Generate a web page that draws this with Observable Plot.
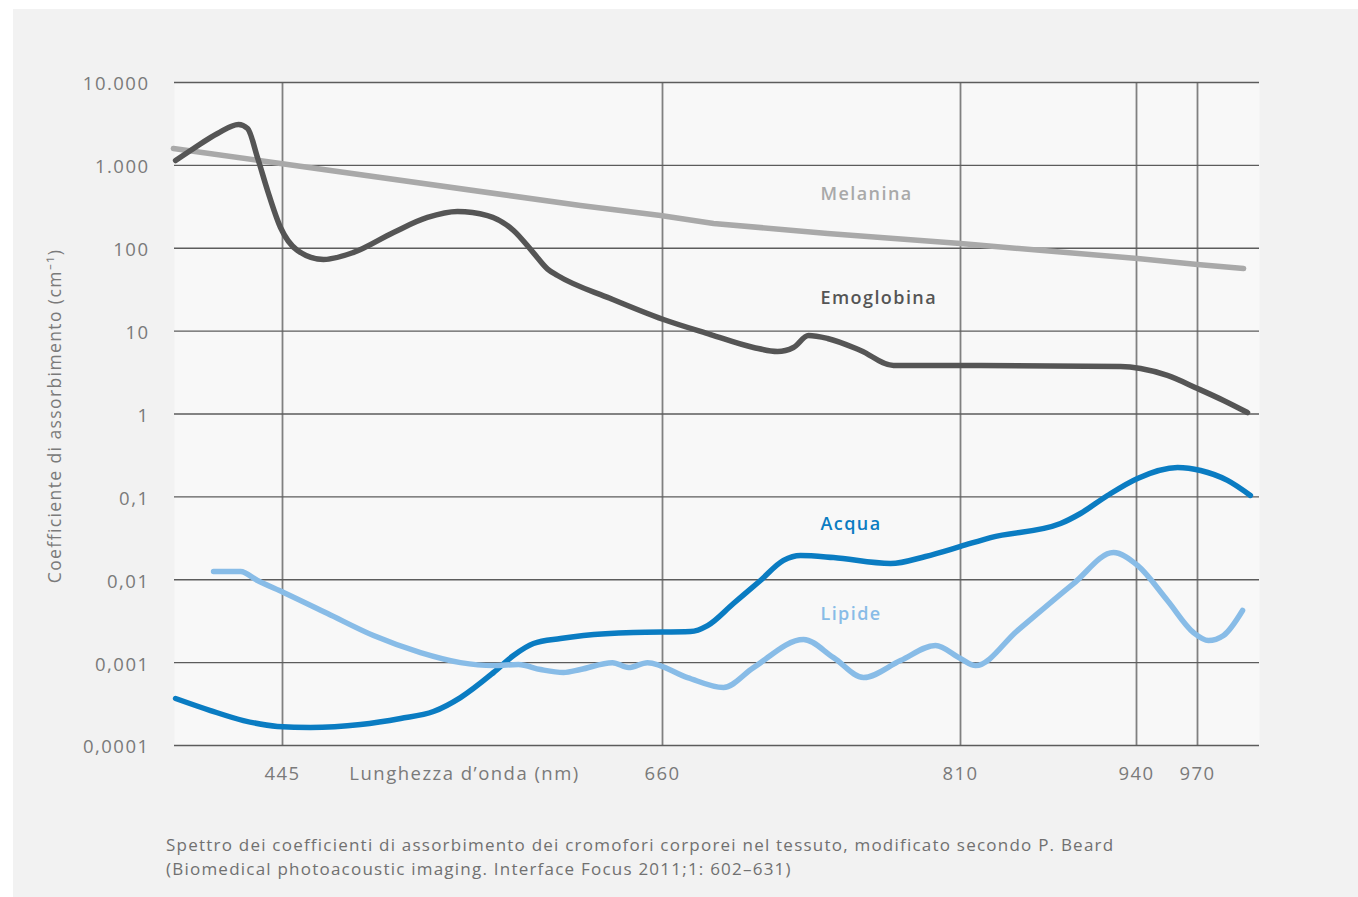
<!DOCTYPE html>
<html><head><meta charset="utf-8">
<script src="https://cdn.jsdelivr.net/npm/d3@7"></script>
<script src="https://cdn.jsdelivr.net/npm/@observablehq/plot@0.6"></script>
<style>
html,body{margin:0;padding:0;background:#fff;}
#page{position:relative;width:1358px;height:897px;overflow:hidden;}
#bg{position:absolute;left:13px;top:9px;width:1345px;height:888px;background:#f2f2f2;}
#chart{position:absolute;left:0;top:0;}
#chart text{letter-spacing:0.08em;}
#caption{position:absolute;left:166px;top:833px;font-family:"Open Sans",sans-serif;font-size:17px;line-height:24px;color:#707070;white-space:nowrap;letter-spacing:0.072em;}
</style></head><body>
<div id="page"><div id="bg"></div><div id="chart"></div>
<div id="caption">Spettro dei coefficienti di assorbimento dei cromofori corporei nel tessuto, modificato secondo P. Beard<br>(Biomedical photoacoustic imaging. Interface Focus 2011;1: 602–631)</div></div>
<script>
// Axis ticks
const xTicks = [445, 660, 810, 940, 970];
const xBreaks = [385, 445, 660, 810, 940, 970, 1000];
const yTicks = [1e-4, 1e-3, 1e-2, 1e-1, 1, 10, 100, 1000, 10000];
const yTickLabels = ["0,0001", "0,001", "0,01", "0,1", "1", "10", "100", "1.000", "10.000"];

// Melanina
const melNm  = [384.4, 443.9, 613.6, 658.9, 685.7, 743.1, 810, 940.5, 970, 992.3];
const melVal = [1600, 1052, 328, 248, 199, 151, 114, 75.2, 63.7, 57];

// Emoglobina
const hbNm  = [385.6, 395.6, 408.9, 420.6, 425.6, 431.1, 436.7, 443.9, 453.5, 468.2, 485.2, 507.8, 527.0, 544.0, 561.0, 575.7, 587.0, 595.0, 600.6, 630.6, 660.5, 684.2, 705.8, 717.9, 725.9, 733.5, 743.1, 759.7, 776.3, 824.8, 928.2, 942.0, 955.2, 970, 982.6, 994.2];
const hbVal = [1145, 1600, 2427, 3113, 2786, 1245, 497, 178, 94, 73, 89, 155, 235, 277, 248, 164, 88, 56, 46.9, 24.7, 13.8, 9.1, 6.35, 5.68, 6.35, 8.85, 8.15, 5.84, 3.85, 3.85, 3.74, 3.54, 2.92, 2.03, 1.456, 1.04];

// Acqua
const h2oNm  = [385.6, 405.0, 423.3, 442.2, 460.8, 489.1, 511.8, 530.4, 545.7, 564.4, 575.7, 587.0, 602.3, 615.3, 643.6, 674.1, 682.7, 695.7, 709.3, 720.9, 729.5, 746.1, 774.8, 792.4, 810, 832.2, 883.9, 898.6, 918.6, 940.5, 960.2, 971.5, 984.5, 995.6];
const h2oVal = [3.69e-4, 2.64e-4, 2.00e-4, 1.70e-4, 1.65e-4, 1.79e-4, 2.12e-4, 2.57e-4, 3.79e-4, 7.6e-4, 1.22e-3, 1.70e-3, 1.95e-3, 2.12e-3, 2.31e-3, 2.37e-3, 2.80e-3, 5.17e-3, 9.8e-3, 0.0171, 0.0196, 0.0185, 0.0157, 0.0191, 0.0252, 0.0323, 0.0477, 0.063, 0.104, 0.167, 0.226, 0.208, 0.158, 0.104];

// Lipide
const lipNm  = [406.7, 421.7, 431.1, 445.6, 470.5, 496.5, 523.1, 545.7, 564.4, 578.5, 591.0, 604.0, 613.6, 631.7, 640.8, 651.5, 672.6, 690.7, 705.8, 731.0, 746.1, 761.2, 779.8, 797.4, 810, 821.1, 852.1, 893.5, 923.0, 940.5, 955.2, 968.0, 975.3, 982.6, 991.8];
const lipVal = [0.0126, 0.0126, 9.8e-3, 7.02e-3, 3.91e-3, 2.12e-3, 1.32e-3, 1.00e-3, 9.22e-4, 9.48e-4, 8.26e-4, 7.6e-4, 8.26e-4, 1.0e-3, 8.72e-4, 1.0e-3, 6.61e-4, 5.01e-4, 8.72e-4, 1.90e-3, 1.15e-3, 6.61e-4, 1.06e-3, 1.61e-3, 1.12e-3, 9.22e-4, 2.44e-3, 9.0e-3, 0.0213, 0.0149, 5.62e-3, 2.31e-3, 1.85e-3, 2.13e-3, 4.26e-3];

const seriesNames  = ["Melanina", "Emoglobina", "Acqua", "Lipide"];
const seriesColors = ["#a9a9a9", "#555555", "#0a7cc2", "#88bce7"];

const tbl = (xs, ys) => xs.map((x, i) => ({nm: x, v: ys[i]}));
const series = [tbl(melNm, melVal), tbl(hbNm, hbVal), tbl(h2oNm, h2oVal), tbl(lipNm, lipVal)];
const curves = ["linear", "monotone-x", "monotone-x", "monotone-x"];
const labelPos = [[739.5, 452], [739.5, 25], [739.5, 0.047], [739.5, 0.00386]];

const chart = Plot.plot({
  width: 1358,
  height: 833,
  marginLeft: 174, marginRight: 99, marginTop: 82, marginBottom: 88,
  style: {background: "transparent", fontFamily: "'Open Sans', sans-serif", fontSize: "18px", color: "#7a7a7a"},
  x: {type: "linear", domain: xBreaks, range: [174, 282, 662, 960, 1136, 1197, 1259]},
  y: {type: "log", domain: [1e-4, 1e4]},
  marks: [
    Plot.frame({fill: "#f8f8f8"}),
    Plot.ruleX(xTicks, {stroke: "#808080", strokeWidth: 1.8}),
    Plot.ruleY(yTicks, {stroke: "#5c5c5c", strokeWidth: 1.4}),
    ...series.map((s, i) => Plot.line(s, {x: "nm", y: "v", stroke: seriesColors[i], strokeWidth: 5.5, curve: curves[i], strokeLinejoin: "round"})),
    Plot.axisY({ticks: yTicks, tickFormat: d => yTickLabels[yTicks.indexOf(d)], tickSize: 0, tickPadding: 25, fontSize: 18.5, fill: "#7a7a7a", label: null, dy: 2}),
    Plot.axisX({ticks: xTicks, tickFormat: d => String(d), tickSize: 0, tickPadding: 21, fontSize: 18.5, fill: "#7a7a7a", label: null}),
    Plot.text(["Lunghezza d’onda (nm)"], {x: 548, frameAnchor: "bottom", dy: 34, fontSize: 18.5, fill: "#7a7a7a"}),
    Plot.text(["Coefficiente di assorbimento (cm⁻¹)"], {frameAnchor: "left", dx: -119, dy: 2, rotate: -90, textAnchor: "middle", fontSize: 17.5, fill: "#7a7a7a"}),
    ...seriesNames.map((n, i) => Plot.text([n], {x: labelPos[i][0], y: labelPos[i][1], textAnchor: "start", fill: seriesColors[i], fontWeight: 600, fontSize: 18}))
  ]
});
document.getElementById("chart").appendChild(chart);
</script>
</body></html>
